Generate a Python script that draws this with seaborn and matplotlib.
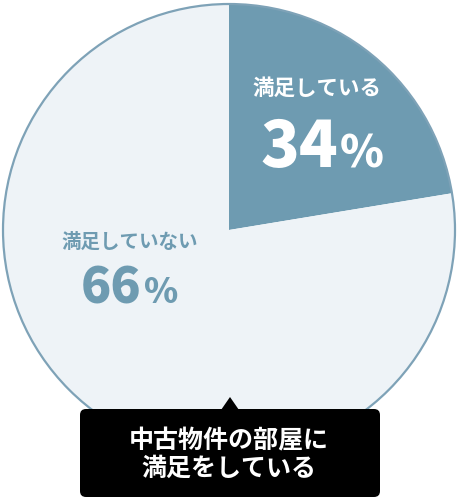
import matplotlib.pyplot as plt
import seaborn as sns
from matplotlib.patches import Circle, FancyBboxPatch, Polygon

# values printed on the chart
labels = ["満足している", "満足していない"]
pct_labels = [34, 66]
# share of the circle each wedge actually covers in the picture
wedge_shares = [22.4, 77.6]
caption = "中古物件の部屋に\n満足をしている"

W, H = 459, 500
CX, CY, R = 229, 230, 226

sns.set_theme(style="white")
plt.rcParams["font.family"] = ["Noto Sans CJK JP", "DejaVu Sans"]

slice_col = "#6e9bb1"
rest_col = "#eef3f7"
edge_col = "#7ea2b7"

fig = plt.figure(figsize=(W / 100, H / 100), dpi=100)
ax = fig.add_axes([0, 0, 1, 0.999999])


def yy(y):
    # picture rows run downwards, data y upwards
    return H - y


ax.pie(
    wedge_shares,
    colors=[slice_col, rest_col],
    startangle=90,
    counterclock=False,
    center=(CX, yy(CY)),
    radius=R,
    wedgeprops={"linewidth": 0},
)
ax.add_patch(Circle((CX, yy(CY)), R, fill=False, edgecolor=edge_col, linewidth=1.6, zorder=3))

ax.set_xlim(0, W)
ax.set_ylim(0, H)
ax.set_aspect("equal")
ax.axis("off")

# slice labels
ax.text(317, yy(88), labels[0], color="white", fontsize=15.5, fontweight="bold",
        ha="center", va="center")
ax.text(338, yy(167), str(pct_labels[0]), color="white", fontsize=46, fontweight="black",
        ha="right", va="baseline")
ax.text(340, yy(167), "%", color="white", fontsize=32, fontweight="black",
        ha="left", va="baseline")

ax.text(130, yy(242), labels[1], color=slice_col, fontsize=14, fontweight="bold",
        ha="center", va="center")
ax.text(141, yy(303), str(pct_labels[1]), color=slice_col, fontsize=36, fontweight="black",
        ha="right", va="baseline")
ax.text(144, yy(303), "%", color=slice_col, fontsize=25, fontweight="black",
        ha="left", va="baseline")

# caption box with pointer
ax.add_patch(FancyBboxPatch((80, yy(497)), 300, 88, boxstyle="round,pad=0,rounding_size=6",
                            facecolor="black", edgecolor="none", zorder=4))
ax.add_patch(Polygon([(221, yy(410)), (230, yy(397)), (239, yy(410))], closed=True,
                     facecolor="black", edgecolor="none", zorder=4))
ax.text(229, yy(455), caption, color="white", fontsize=18, fontweight="bold",
        ha="center", va="center", linespacing=1.15, zorder=5)

fig.savefig("out.png", dpi=100)
